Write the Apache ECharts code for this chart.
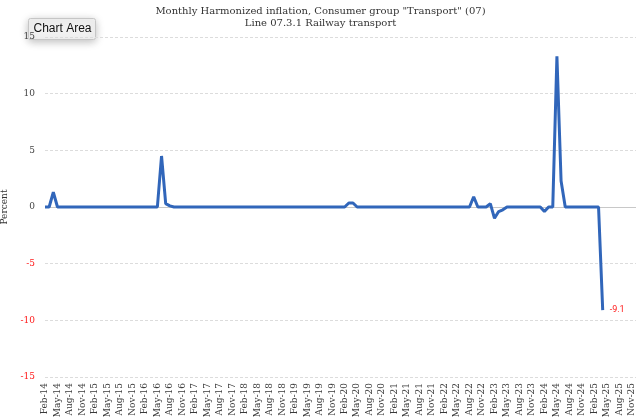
<!DOCTYPE html>
<html>
<head>
<meta charset="utf-8">
<script src="https://cdn.jsdelivr.net/npm/echarts@6/dist/echarts.min.js"></script>
<style>
  html, body { margin: 0; padding: 0; background: #fff; }
  #main { width: 641px; height: 417px; }
</style>
</head>
<body>
<div id="main"></div>
<script>
// month names and years for the category axis (Feb-14 .. Dec-25)
const monthNames = ['Jan', 'Feb', 'Mar', 'Apr', 'May', 'Jun', 'Jul', 'Aug', 'Sep', 'Oct', 'Nov', 'Dec']
const years = ['14', '15', '16', '17', '18', '19', '20', '21', '22', '23', '24', '25']

// monthly rate, Feb-14 .. Apr-25
const inflation = [
  0, 0, 1.3, 0, 0, 0, 0, 0, 0, 0, 0, 0,
  0, 0, 0, 0, 0, 0, 0, 0, 0, 0, 0, 0,
  0, 0, 0, 0, 4.5, 0.3, 0.1, 0, 0, 0, 0, 0,
  0, 0, 0, 0, 0, 0, 0, 0, 0, 0, 0, 0,
  0, 0, 0, 0, 0, 0, 0, 0, 0, 0, 0, 0,
  0, 0, 0, 0, 0, 0, 0, 0, 0, 0, 0, 0,
  0, 0.35, 0.35, 0, 0, 0, 0, 0, 0, 0, 0, 0,
  0, 0, 0, 0, 0, 0, 0, 0, 0, 0, 0, 0,
  0, 0, 0, 0, 0, 0, 0, 0.9, 0, 0, 0, 0.3,
  -1.0, -0.4, -0.25, 0, 0, 0, 0, 0, 0, 0, 0, 0,
  -0.4, 0, 0, 13.3, 2.3, 0, 0, 0, 0, 0, 0, 0,
  0, 0, -9.1
]

const yTicks = [-15, -10, -5, 0, 5, 10, 15]

var months = []
years.forEach(y => {
  monthNames.forEach(m => months.push(m + '-' + y))
})
months = months.slice(1) // starts at Feb-14

const serif = '"DejaVu Serif", serif'

var myChart = echarts.init(document.getElementById('main'))

const option = {
  animation: false,
  title: {
    left: 'center',
    top: 0,
    text: 'Monthly Harmonized inflation, Consumer group "Transport" (07)\nLine 07.3.1 Railway transport',
    textStyle: {
      fontFamily: serif,
      fontSize: 10,
      fontWeight: 'normal',
      color: '#333',
      lineHeight: 12
    }
  },
  grid: {
    left: 45,
    right: 5,
    top: 37,
    bottom: 40,
    containLabel: false,
    outerBoundsMode: 'none'
  },
  xAxis: {
    type: 'category',
    boundaryGap: false,
    data: months,
    axisLine: { show: false },
    axisTick: { show: false },
    axisLabel: {
      rotate: 90,
      margin: 6,
      interval: 2,
      fontFamily: serif,
      fontSize: 9,
      color: '#3a3a3a'
    },
    splitLine: { show: false }
  },
  yAxis: {
    type: 'value',
    name: 'Percent',
    nameLocation: 'middle',
    nameGap: 30,
    nameTextStyle: {
      fontFamily: serif,
      fontSize: 9,
      color: '#333'
    },
    min: yTicks[0],
    max: yTicks[yTicks.length - 1],
    interval: 5,
    axisLine: { show: false },
    axisTick: { show: false },
    axisLabel: {
      margin: 10,
      fontFamily: serif,
      fontSize: 9,
      color: (value) => value < 0 ? '#ff1a1a' : '#444'
    },
    splitLine: {
      lineStyle: {
        type: [3, 2],
        color: '#dcdcdc',
        width: 1
      }
    }
  },
  series: [{
    type: 'line',
    data: inflation,
    showSymbol: false,
    symbol: 'none',
    lineStyle: {
      color: '#3166ba',
      width: 3
    },
    endLabel: {
      show: true,
      distance: 7,
      fontFamily: 'Roboto, sans-serif',
      fontSize: 9,
      color: '#ff1a1a',
      formatter: (params) => params.value.toFixed(1)
    },
    markLine: {
      silent: true,
      symbol: 'none',
      label: { show: false },
      lineStyle: {
        type: 'solid',
        color: '#c8c8c8',
        width: 1
      },
      z: 1,
      data: [{ yAxis: 0 }]
    }
  }],
  graphic: [{
    type: 'group',
    left: 28,
    top: 18,
    children: [{
      type: 'rect',
      shape: { x: 0, y: 0, width: 67, height: 21, r: 2 },
      style: {
        fill: '#f2f2f2',
        stroke: '#c6c6c6',
        lineWidth: 1,
        shadowBlur: 8,
        shadowColor: 'rgba(0,0,0,0.25)',
        shadowOffsetY: 2
      }
    }, {
      type: 'text',
      x: 5,
      y: 4,
      style: {
        text: 'Chart Area',
        fontFamily: '"Liberation Sans", Arial, sans-serif',
        fontSize: 12,
        fill: '#111'
      }
    }]
  }]
}

myChart.setOption(option)
</script>
</body>
</html>
